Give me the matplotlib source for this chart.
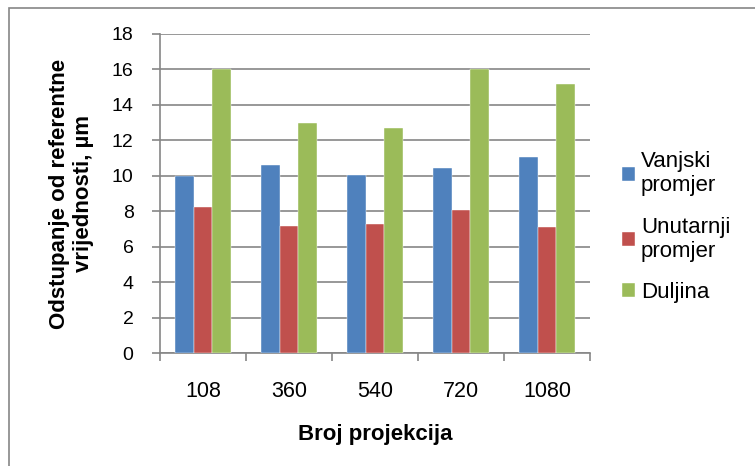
import matplotlib.pyplot as plt
import numpy as np
from matplotlib.patches import Rectangle

categories = ['108', '360', '540', '720', '1080']
vanjski = [10.0, 10.63, 10.06, 10.46, 11.08]
unutarnji = [8.26, 7.15, 7.26, 8.07, 7.11]
duljina = [16.0, 12.96, 12.68, 16.0, 15.16]

series = [
    ('Vanjski\npromjer', vanjski, '#4F81BD'),
    ('Unutarnji\npromjer', unutarnji, '#C0504D'),
    ('Duljina', duljina, '#9BBB59'),
]

plt.rcParams['font.family'] = ['Liberation Sans', 'DejaVu Sans']
grey = '#868686'

fig = plt.figure(figsize=(7.55, 4.66), dpi=100)
ax = fig.add_axes([160 / 755, 1 - 353 / 466, 430 / 755, 319 / 466])

# outer chart frame (cropped on right and bottom)
fig.patches.append(Rectangle((9 / 755, -0.1), 1.2, 1 - 8 / 466 + 0.1,
                             transform=fig.transFigure, fill=False,
                             edgecolor=grey, linewidth=1.2))

x = np.arange(len(categories))
w = 0.22
for i, (name, vals, col) in enumerate(series):
    ax.bar(x + (i - 1) * w, vals, w, color=col, label=name, zorder=3,
           edgecolor='white', linewidth=0.3)

ax.set_xlim(-0.5, len(categories) - 0.5)
ax.set_ylim(0, 18)
ax.set_yticks(range(0, 19, 2))
ax.grid(axis='y', color=grey, linewidth=1.2, zorder=0)

ax.set_xticks(x)
ax.set_xticklabels(categories)
ax.set_xticks(np.arange(-0.5, len(categories), 1), minor=True)
ax.tick_params(axis='x', which='major', length=0, pad=20, labelsize=15.5)
ax.tick_params(axis='x', which='minor', length=6, width=1.2, color=grey, direction='out')
ax.tick_params(axis='y', length=6, width=1.2, color=grey, labelsize=14, pad=13)

for s in ['top', 'right']:
    ax.spines[s].set_visible(False)
for s in ['left', 'bottom']:
    ax.spines[s].set_color(grey)
    ax.spines[s].set_linewidth(1.2)

ax.set_xlabel('Broj projekcija', fontsize=16, fontweight='bold', labelpad=16)
ax.set_ylabel('Odstupanje od referentne\nvrijednosti, µm', fontsize=16,
              fontweight='bold', labelpad=13, linespacing=1.15)

ax.legend(loc='center left', bbox_to_anchor=(602 / 755, 1 - 227 / 466),
          bbox_transform=fig.transFigure, frameon=False,
          fontsize=16, handlelength=0.6, handleheight=0.6, handletextpad=0.25,
          labelspacing=0.9)

fig.savefig('out.png', dpi=100)
